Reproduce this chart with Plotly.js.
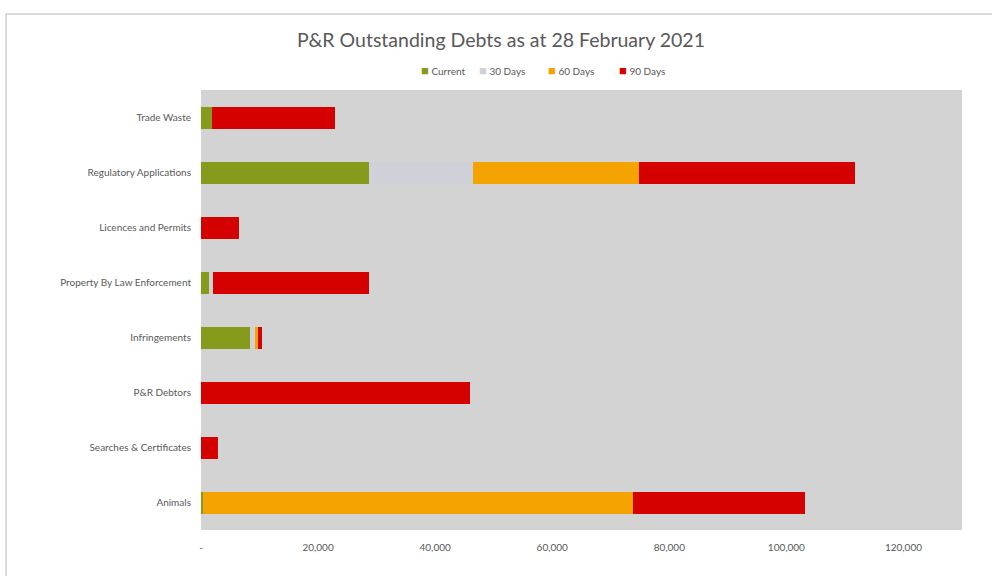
<!DOCTYPE html>
<html>
<head>
<meta charset="utf-8">
<script src="https://cdn.plot.ly/plotly-3.0.1.min.js"></script>
<style>html,body{margin:0;padding:0;background:#fff;}#chart{width:992px;height:576px;}</style>
</head>
<body>
<div id="chart"></div>
<script>
const categories = ["Trade Waste", "Regulatory Applications", "Licences and Permits", "Property By Law Enforcement", "Infringements", "P&R Debtors", "Searches & Certificates", "Animals"];
const current = [1900, 28650, 0, 1400, 8350, 0, 0, 300];
const days30 = [0, 17750, 0, 700, 920, 0, 0, 0];
const days60 = [0, 28450, 0, 0, 500, 0, 0, 73500];
const days90 = [20950, 36800, 6480, 26550, 700, 45870, 2900, 29330];
const seriesNames = ["Current", "30 Days", "60 Days", "90 Days"];
const seriesColors = ["#869a1c", "#cfd0d8", "#f5a300", "#d50000"];
const tickVals = [0, 20000, 40000, 60000, 80000, 100000, 120000];
const tickText = ["-", "20,000", "40,000", "60,000", "80,000", "100,000", "120,000"];

const values = [current, days30, days60, days90];
const traces = values.map((v, i) => ({
  type: "bar",
  orientation: "h",
  name: seriesNames[i],
  y: categories,
  x: v,
  marker: {color: seriesColors[i]},
  hoverinfo: "x+name"
}));

// compact legend (positions in paper fraction of plot width)
const legendX = [0.2865, 0.3627, 0.4534, 0.5467];
const legendAnnotations = seriesNames.map((n, i) => ({
  xref: "paper", yref: "paper", x: legendX[i], y: 1.0455,
  xanchor: "left", yanchor: "middle", showarrow: false,
  text: '<span style="color:' + seriesColors[i] + ';font-size:13px">■</span> ' + n,
  font: {size: 10, color: "#595959"}
}));

const layout = {
  width: 992, height: 576,
  barmode: "stack",
  bargap: 0.6,
  paper_bgcolor: "#ffffff",
  plot_bgcolor: "#d3d3d3",
  font: {family: "Lato, 'Open Sans', sans-serif", color: "#595959", size: 10},
  title: {text: "P&R Outstanding Debts as at 28 February 2021", x: 0.505, xanchor: "center", y: 0.93, yanchor: "middle", font: {size: 19.5, color: "#595959"}},
  margin: {l: 201, r: 30, t: 90, b: 46},
  showlegend: false,
  annotations: legendAnnotations,
  xaxis: {range: [0, 130000], tickvals: tickVals, ticktext: tickText, showgrid: false, zeroline: false, showline: false, ticks: "", ticklabelstandoff: 10, tickfont: {size: 10, color: "#595959"}},
  yaxis: {autorange: "reversed", showgrid: false, zeroline: false, showline: false, ticks: "", ticklabelstandoff: 9, tickfont: {size: 10, color: "#595959"}, automargin: false},
  shapes: [{type: "rect", xref: "paper", yref: "paper", x0: -0.2562, x1: 1.1, y0: -0.2, y1: 1.1727, line: {color: "#cfcfcf", width: 1.5}}]
};

Plotly.newPlot("chart", traces, layout, {displayModeBar: false, staticPlot: true});
</script>
</body>
</html>
